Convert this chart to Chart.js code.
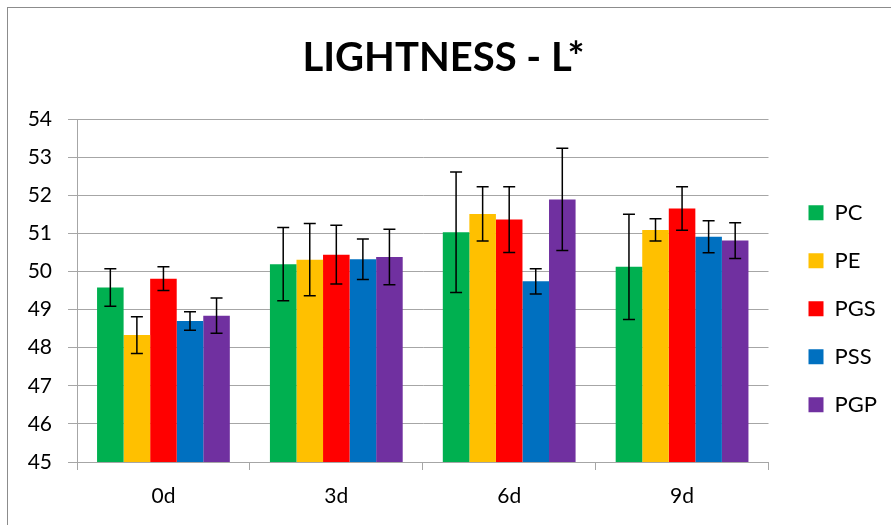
<!DOCTYPE html>
<html>
<head>
<meta charset="utf-8">
<script src="https://cdn.jsdelivr.net/npm/chart.js@4.4.1/dist/chart.umd.min.js"></script>
<style>
  html, body { margin: 0; padding: 0; background: #fff; overflow: hidden; }
  #wrap { position: relative; width: 891px; height: 525px; }
</style>
</head>
<body>
<div id="wrap"><canvas id="c" width="891" height="525"></canvas></div>
<script>
const categories = ['0d', '3d', '6d', '9d'];
const seriesNames = ['PC', 'PE', 'PGS', 'PSS', 'PGP'];
const seriesColors = ['#00B050', '#FFC000', '#FF0000', '#0070C0', '#7030A0'];

const PC  = [49.58, 50.19, 51.03, 50.12];
const PE  = [48.33, 50.31, 51.51, 51.09];
const PGS = [49.81, 50.44, 51.36, 51.65];
const PSS = [48.70, 50.32, 49.74, 50.91];
const PGP = [48.84, 50.38, 51.89, 50.81];

const PC_err  = [0.49, 0.96, 1.58, 1.38];
const PE_err  = [0.48, 0.95, 0.71, 0.29];
const PGS_err = [0.31, 0.77, 0.86, 0.57];
const PSS_err = [0.24, 0.53, 0.33, 0.42];
const PGP_err = [0.46, 0.73, 1.34, 0.47];

const yMin = 45, yMax = 54, yStep = 1;

const values = [PC, PE, PGS, PSS, PGP];
const errors = [PC_err, PE_err, PGS_err, PSS_err, PGP_err];

const datasets = seriesNames.map((name, i) => ({
  label: name,
  data: values[i],
  errors: errors[i],
  backgroundColor: seriesColors[i],
  borderWidth: 0,
  categoryPercentage: 0.768,
  barPercentage: 1.0,
  yAxisID: 'y'
}));

const GRID = '#a6a6a6';

const frame = {
  id: 'frame',
  beforeDraw(chart) {
    const ctx = chart.ctx;
    ctx.save();
    ctx.fillStyle = '#fff';
    ctx.fillRect(0, 0, chart.width, chart.height);
    ctx.strokeStyle = '#8c8c8c';
    ctx.lineWidth = 1;
    ctx.strokeRect(7.5, 7.5, 2000, 2000);
    ctx.restore();
  }
};

const errorBars = {
  id: 'errorBars',
  afterDatasetsDraw(chart) {
    const ctx = chart.ctx;
    const ys = chart.scales.y;
    ctx.save();
    ctx.strokeStyle = '#000';
    ctx.lineWidth = 1.5;
    chart.data.datasets.forEach((ds, di) => {
      const meta = chart.getDatasetMeta(di);
      meta.data.forEach((bar, i) => {
        const v = ds.data[i], e = ds.errors[i];
        const x = bar.x;
        const yTop = ys.getPixelForValue(v + e);
        const yBot = ys.getPixelForValue(v - e);
        const cap = 6;
        ctx.beginPath();
        ctx.moveTo(x, yTop); ctx.lineTo(x, yBot);
        ctx.moveTo(x - cap, yTop); ctx.lineTo(x + cap, yTop);
        ctx.moveTo(x - cap, yBot); ctx.lineTo(x + cap, yBot);
        ctx.stroke();
      });
    });
    ctx.restore();
  }
};

new Chart(document.getElementById('c'), {
  type: 'bar',
  data: { labels: categories, datasets },
  plugins: [frame, errorBars],
  options: {
    responsive: false,
    animation: false,
    layout: { padding: { left: 0, right: 4, top: 0, bottom: 0 } },
    plugins: {
      title: {
        display: true,
        text: 'LIGHTNESS - L*',
        color: '#000',
        font: { family: 'Lato', size: 40, weight: 'bold' },
        padding: { top: 34, bottom: 37 }
      },
      legend: {
        position: 'right',
        align: 'center',
        title: { display: true, text: ' ', font: { size: 12 }, padding: { top: 78, bottom: 0 } },
        labels: {
          boxWidth: 15,
          boxHeight: 15,
          padding: 26,
          color: '#000',
          font: { family: 'Lato', size: 22 }
        }
      },
      tooltip: { enabled: false }
    },
    scales: {
      x: {
        grid: { display: true, drawOnChartArea: false, drawTicks: true, tickLength: 8, color: GRID, offset: true },
        border: { display: true, color: GRID },
        ticks: { color: '#000', font: { family: 'Lato', size: 21 }, padding: 14 },
        afterFit(s) { s.height = 63; }
      },
      y: {
        min: yMin, max: yMax,
        grid: { color: GRID, tickLength: 9, drawTicks: true },
        border: { display: true, color: GRID },
        ticks: { stepSize: yStep, color: '#000', font: { family: 'Lato', size: 21 }, padding: 16 },
        afterFit(s) { s.width = 77; }
      },
      gap: {
        position: 'right',
        display: true,
        grid: { display: false },
        border: { display: false },
        ticks: { display: false },
        afterFit(s) { s.width = 14; }
      }
    }
  }
});
</script>
</body>
</html>
